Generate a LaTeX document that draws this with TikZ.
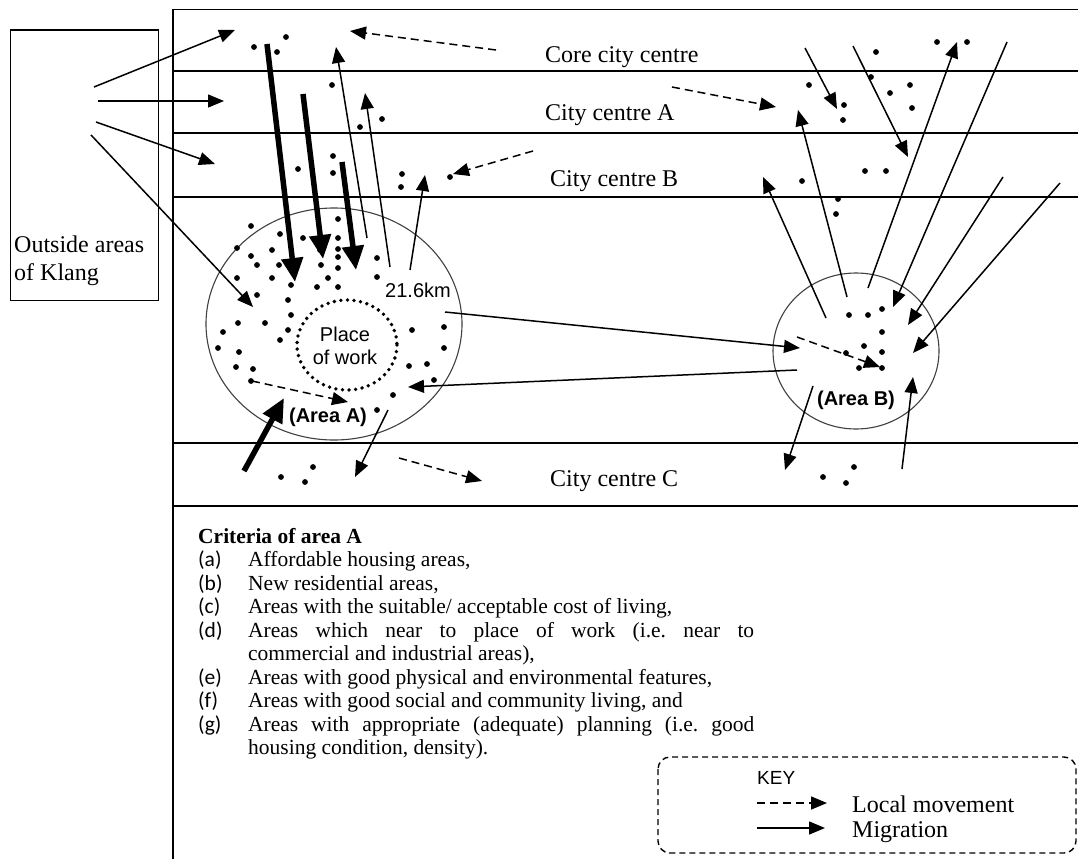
\documentclass[tikz,border=0pt]{standalone}
\usepackage{fontspec}
\setmainfont{Liberation Serif}
\setsansfont{Liberation Sans}
\newfontfamily\lblfont{Carlito}
\usetikzlibrary{arrows.meta}
\tikzset{
  mig/.style={-{Triangle[length=16pt,width=13pt]}, line width=1.5pt},
  thickmig/.style={-{Triangle[length=24pt,width=21pt]}, line width=5.5pt},
  loc/.style={mig, dash pattern=on 8pt off 5pt},
  band/.style={line width=1.6pt},
  area/.style={draw=black!75, line width=1.1pt},
  biglbl/.style={font=\fontsize{24}{28}\selectfont, anchor=base west, inner sep=0pt},
  crit/.style={font=\fontsize{21.5}{23.5}\selectfont, anchor=base west, inner sep=0pt},
  critlbl/.style={font=\lblfont\fontsize{21.5}{23.5}\selectfont, anchor=base west, inner sep=0pt},
  sanslbl/.style={font=\sffamily\fontsize{20}{23}\selectfont, inner sep=0pt, align=center},
}
\frenchspacing
\begin{document}
\begin{tikzpicture}[x=1pt,y=-1pt]
\useasboundingbox (0,0) rectangle (1078,859);
\fill[white] (0,0) rectangle (1078,859);

% frame and bands
\draw[band] (173,859) -- (173,9.5) -- (1078,9.5);
\foreach \yy in {71,133,197,443,506} \draw[band] (173,\yy) -- (1078,\yy);

% outside box
\node[draw, line width=1.4pt, minimum width=148pt, minimum height=270pt, anchor=north west, inner sep=0pt] (out) at (10,29.5) {};
\node[biglbl] (outt1) at (14,252) {Outside areas};
\node[biglbl] (outt2) at (14,280) {of Klang};

% band labels
\node[biglbl] (core) at (545,63) {Core city centre};
\node[biglbl] (cca) at (545,120) {City centre A};
\node[biglbl] (ccb) at (550,186) {City centre B};
\node[biglbl] (ccc) at (550,486) {City centre C};

% areas
\draw[area] (334,324) ellipse [x radius=128, y radius=116];
\draw[area] (856,351) ellipse [x radius=83, y radius=78];
\draw[line width=3.8pt, line cap=round, dash pattern=on 0pt off 6.6pt] (347,345) ellipse [x radius=50, y radius=45];
\node[sanslbl] (pow) at (345,346) {Place\\of work};
\node[sanslbl] (km) at (418,290) {21.6km};
\node[sanslbl, font=\sffamily\bfseries\fontsize{20}{23}\selectfont] (areaA) at (328,417) {(Area A)};
\node[sanslbl, font=\sffamily\bfseries\fontsize{20}{23}\selectfont] (areaB) at (856,400) {(Area B)};

% dots
\foreach \p in {(254,47),(277,52),(286,37),(332,85),(360,127),(382,119),(333,156),(333,173),(298,169),(402,174),(401,187),(450,177),
  (251,226),(280,234),(303,238),(338,219),(338,238),(338,249),(338,257),(338,268),(237,248),(251,256),(257,265),(272,250),(279,265),(321,265),(377,258),(320,250),(272,278),(377,277),(328,278),(237,278),
  (291,285),(317,287),(338,287),(257,295),(288,300),(291,315),(238,323),(265,323),(288,330),(223,332),(280,340),(218,348),(239,352),(236,367),(253,369),(251,381),
  (412,330),(444,327),(444,348),(409,366),(427,364),(434,380),(393,395),(377,410),
  (281,477),(305,482),(313,467),(823,477),(846,483),(854,467),
  (849,315),(868,315),(882,309),(882,332),(864,346),(846,353),(882,352),(859,368),(882,368),
  (838,199),(836,214),(802,181),(865,171),(886,171),
  (937,42),(967,42),(876,52),(809,85),(871,77),(890,93),(910,85),(912,108),(844,105),(843,120)}
  \fill \p circle (2.9pt);

% coordinates of connector ends
\coordinate (o1s) at (94,87);   \coordinate (o1e) at (235,30);
\coordinate (o2s) at (98,101);  \coordinate (o2e) at (224,101);
\coordinate (o3s) at (96,122);  \coordinate (o3e) at (215,164);
\coordinate (o4s) at (91,135);  \coordinate (o4e) at (253,307);
\coordinate (t1s) at (267,44);  \coordinate (t1e) at (295,282);
\coordinate (t2s) at (303,94);  \coordinate (t2e) at (323,259);
\coordinate (t3s) at (342,162); \coordinate (t3e) at (356,270);
\coordinate (t4s) at (244,471); \coordinate (t4e) at (284,398);
\coordinate (u1s) at (367,238); \coordinate (u1e) at (336,47);
\coordinate (u2s) at (390,267); \coordinate (u2e) at (365,93);
\coordinate (u3s) at (410,270); \coordinate (u3e) at (425,175);
\coordinate (d1s) at (496,50);  \coordinate (d1e) at (350,31);
\coordinate (d2s) at (533,151); \coordinate (d2e) at (453,174);
\coordinate (d3s) at (672,87);  \coordinate (d3e) at (776,107);
\coordinate (d4s) at (252,381); \coordinate (d4e) at (348,402);
\coordinate (d5s) at (399,458); \coordinate (d5e) at (482,481);
\coordinate (d6s) at (797,337); \coordinate (d6e) at (880,367);
\coordinate (abs) at (445,312); \coordinate (abe) at (800,348);
\coordinate (bas) at (797,370); \coordinate (bae) at (408,387);
\coordinate (acs) at (388,410); \coordinate (ace) at (355,477);
\coordinate (b1s) at (826,318); \coordinate (b1e) at (763,177);
\coordinate (b2s) at (847,297); \coordinate (b2e) at (798,110);
\coordinate (m3s) at (868,288); \coordinate (m3e) at (957,42);
\coordinate (m4s) at (1007,42); \coordinate (m4e) at (893,307);
\coordinate (m5s) at (1003,177); \coordinate (m5e) at (908,325);
\coordinate (m6s) at (1060,183); \coordinate (m6e) at (913,353);
\coordinate (bcs) at (813,386); \coordinate (bce) at (785,470);
\coordinate (cbs) at (902,469); \coordinate (cbe) at (913,377);
\coordinate (m1s) at (805,48);  \coordinate (m1e) at (837,109);
\coordinate (m2s) at (853,46);  \coordinate (m2e) at (908,157);

% migration arrows
\foreach \a/\b in {o1s/o1e,o2s/o2e,o3s/o3e,o4s/o4e,u1s/u1e,u2s/u2e,u3s/u3e,abs/abe,bas/bae,acs/ace,b1s/b1e,b2s/b2e,m3s/m3e,m4s/m4e,m5s/m5e,m6s/m6e,bcs/bce,cbs/cbe,m1s/m1e,m2s/m2e}
  \draw[mig] (\a) -- (\b);
\foreach \a/\b in {t1s/t1e,t2s/t2e,t3s/t3e,t4s/t4e}
  \draw[thickmig] (\a) -- (\b);
% local movement
\foreach \a/\b in {d1s/d1e,d2s/d2e,d3s/d3e,d4s/d4e,d5s/d5e,d6s/d6e}
  \draw[loc] (\a) -- (\b);

% criteria
\node[crit, font=\bfseries\fontsize{21.5}{23.5}\selectfont] (crith) at (198,543) {Criteria of area A};
\node[critlbl] (la) at (198,566.5) {(a)};
\node[crit] (ta) at (248,566.5) {Affordable housing areas,};
\node[critlbl] (lb) at (198,590) {(b)};
\node[crit] (tb) at (248,590) {New residential areas,};
\node[critlbl] (lc) at (198,613.5) {(c)};
\node[crit] (tc) at (248,613.5) {Areas with the suitable/ acceptable cost of living,};
\node[critlbl] (ld) at (198,637) {(d)};
\node[crit] (td) at (248,637) {\makebox[506pt][s]{Areas which near to place of work (i.e. near to}};
\node[crit] (td2) at (248,660.5) {commercial and industrial areas),};
\node[critlbl] (le) at (198,684) {(e)};
\node[crit] (te) at (248,684) {Areas with good physical and environmental features,};
\node[critlbl] (lf) at (198,707.5) {(f)};
\node[crit] (tf) at (248,707.5) {Areas with good social and community living, and};
\node[critlbl] (lg) at (198,731) {(g)};
\node[crit] (tg) at (248,731) {\makebox[506pt][s]{Areas with appropriate (adequate) planning (i.e. good}};
\node[crit] (tg2) at (248,754.5) {housing condition, density).};

% key
\draw[line width=1.4pt, dash pattern=on 6pt off 4pt, rounded corners=12pt] (658,757) rectangle (1076,853);
\node[sanslbl, anchor=base west, font=\sffamily\fontsize{19}{22}\selectfont] (key) at (757,784) {KEY};
\coordinate (k1s) at (757,803); \coordinate (k1e) at (827,803);
\coordinate (k2s) at (757,828); \coordinate (k2e) at (825,828);
\draw[loc] (k1s) -- (k1e);
\draw[mig] (k2s) -- (k2e);
\node[biglbl] (klm) at (852,812) {Local movement};
\node[biglbl] (kmg) at (852,837) {Migration};
\end{tikzpicture}
\end{document}
